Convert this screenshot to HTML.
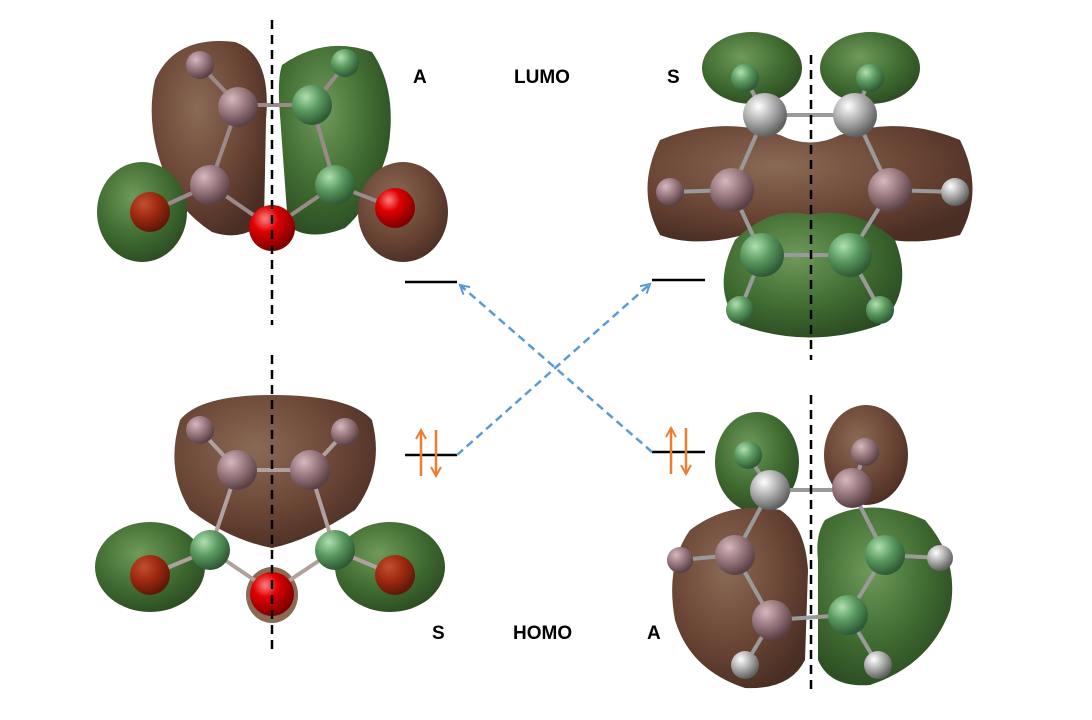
<!DOCTYPE html>
<html><head><meta charset="utf-8"><style>
html,body{margin:0;padding:0;background:#fff;}
svg{display:block;}
text{font-family:"Liberation Sans",Arial,sans-serif;font-weight:bold;font-size:19px;fill:#000;}
</style></head><body>
<svg width="1092" height="720" viewBox="0 0 1092 720" xmlns="http://www.w3.org/2000/svg">
<defs>
<radialGradient id="gr" cx="40%" cy="35%" r="70%"><stop offset="0" stop-color="#6f9a5a"/><stop offset="0.6" stop-color="#3f6a30"/><stop offset="1" stop-color="#2b4a22"/></radialGradient>
<radialGradient id="br" cx="40%" cy="35%" r="70%"><stop offset="0" stop-color="#8a6a55"/><stop offset="0.6" stop-color="#6a4535"/><stop offset="1" stop-color="#4a2e24"/></radialGradient>
<radialGradient id="red" cx="35%" cy="30%" r="70%"><stop offset="0" stop-color="#ff8080"/><stop offset="0.4" stop-color="#e00000"/><stop offset="1" stop-color="#800000"/></radialGradient>
<radialGradient id="dred" cx="35%" cy="30%" r="70%"><stop offset="0" stop-color="#c05030"/><stop offset="0.5" stop-color="#a02a10"/><stop offset="1" stop-color="#601808"/></radialGradient>
<radialGradient id="pk" cx="35%" cy="30%" r="70%"><stop offset="0" stop-color="#d8b8c0"/><stop offset="0.5" stop-color="#9a7a80"/><stop offset="1" stop-color="#5a4045"/></radialGradient>
<radialGradient id="gn" cx="35%" cy="30%" r="70%"><stop offset="0" stop-color="#b0e0b0"/><stop offset="0.5" stop-color="#5a9a60"/><stop offset="1" stop-color="#2f5a35"/></radialGradient>
<radialGradient id="gy" cx="35%" cy="30%" r="70%"><stop offset="0" stop-color="#ffffff"/><stop offset="0.5" stop-color="#b0b0b0"/><stop offset="1" stop-color="#606060"/></radialGradient>
<marker id="ah" markerWidth="12" markerHeight="12" refX="10" refY="6" orient="auto" markerUnits="userSpaceOnUse"><path d="M1,1 L10,6 L1,11" fill="none" stroke="#5b9bd5" stroke-width="2"/></marker>
<marker id="oa" markerWidth="12" markerHeight="12" refX="10" refY="6" orient="auto" markerUnits="userSpaceOnUse"><path d="M1,1 L10,6 L1,11" fill="none" stroke="#ed7d31" stroke-width="2"/></marker>
</defs>

<!-- TOP LEFT (LUMO A) -->
<path d="M155,80 Q175,35 235,42 Q272,55 266,120 L264,222 Q242,242 212,232 Q178,210 165,175 Q145,125 155,80Z" fill="url(#br)"/>
<path d="M282,65 Q325,35 372,52 Q398,90 388,150 Q372,205 345,228 Q310,242 288,226 L280,115 Q277,80 282,65Z" fill="url(#gr)"/>
<ellipse cx="142" cy="212" rx="45" ry="50" fill="url(#gr)"/>
<ellipse cx="403" cy="212" rx="45" ry="50" fill="url(#br)"/>
<g stroke="#9a8a8a" stroke-width="4">
<line x1="200" y1="65" x2="238" y2="105"/><line x1="238" y1="105" x2="312" y2="105"/><line x1="312" y1="105" x2="345" y2="65"/>
<line x1="238" y1="105" x2="210" y2="185"/><line x1="312" y1="105" x2="335" y2="185"/>
<line x1="210" y1="185" x2="150" y2="212"/><line x1="335" y1="185" x2="395" y2="208"/>
<line x1="210" y1="185" x2="272" y2="228"/><line x1="335" y1="185" x2="272" y2="228"/>
</g>
<circle cx="200" cy="65" r="14" fill="url(#pk)"/><circle cx="345" cy="63" r="14" fill="url(#gn)"/>
<circle cx="238" cy="107" r="20" fill="url(#pk)"/><circle cx="312" cy="105" r="20" fill="url(#gn)"/>
<circle cx="210" cy="185" r="20" fill="url(#pk)"/><circle cx="335" cy="185" r="20" fill="url(#gn)"/>
<circle cx="150" cy="212" r="20" fill="url(#dred)"/><circle cx="395" cy="208" r="20" fill="url(#red)"/>
<circle cx="272" cy="228" r="23" fill="url(#red)"/>
<line x1="272" y1="20" x2="272" y2="325" stroke="#000" stroke-width="2.5" stroke-dasharray="9,6"/>

<!-- TOP RIGHT (LUMO S) -->
<ellipse cx="752" cy="68" rx="50" ry="36" fill="url(#gr)"/>
<ellipse cx="870" cy="68" rx="50" ry="36" fill="url(#gr)"/>
<path d="M660,140 Q720,115 780,135 Q810,150 840,135 Q900,115 960,140 Q985,190 960,235 Q900,250 860,230 L760,230 Q700,250 660,235 Q635,190 660,140Z" fill="url(#br)"/>
<path d="M735,240 Q770,205 810,215 Q855,205 895,240 Q915,290 880,325 Q810,350 740,325 Q710,290 735,240Z" fill="url(#gr)"/>
<g stroke="#9a9a9a" stroke-width="4">
<line x1="745" y1="78" x2="765" y2="115"/><line x1="870" y1="78" x2="855" y2="115"/><line x1="765" y1="115" x2="855" y2="115"/>
<line x1="765" y1="115" x2="732" y2="190"/><line x1="855" y1="115" x2="890" y2="190"/>
<line x1="732" y1="190" x2="670" y2="192"/><line x1="890" y1="190" x2="955" y2="192"/>
<line x1="732" y1="190" x2="762" y2="255"/><line x1="890" y1="190" x2="850" y2="255"/>
<line x1="762" y1="255" x2="850" y2="255"/><line x1="762" y1="255" x2="740" y2="310"/><line x1="850" y1="255" x2="880" y2="310"/>
</g>
<circle cx="745" cy="78" r="14" fill="url(#gn)"/><circle cx="870" cy="78" r="14" fill="url(#gn)"/>
<circle cx="765" cy="115" r="22" fill="url(#gy)"/><circle cx="855" cy="115" r="22" fill="url(#gy)"/>
<circle cx="732" cy="190" r="22" fill="url(#pk)"/><circle cx="890" cy="190" r="22" fill="url(#pk)"/>
<circle cx="670" cy="192" r="14" fill="url(#pk)"/><circle cx="955" cy="192" r="14" fill="url(#gy)"/>
<circle cx="762" cy="255" r="22" fill="url(#gn)"/><circle cx="850" cy="255" r="22" fill="url(#gn)"/>
<circle cx="740" cy="310" r="14" fill="url(#gn)"/><circle cx="880" cy="310" r="14" fill="url(#gn)"/>
<line x1="811" y1="55" x2="811" y2="360" stroke="#000" stroke-width="2.5" stroke-dasharray="9,6"/>

<!-- BOTTOM LEFT (HOMO S) -->
<path d="M180,420 Q200,395 272,395 Q350,395 372,420 Q385,470 355,510 Q310,540 272,548 Q230,540 190,510 Q165,470 180,420Z" fill="url(#br)"/>
<ellipse cx="150" cy="567" rx="55" ry="45" fill="url(#gr)"/>
<ellipse cx="390" cy="567" rx="55" ry="45" fill="url(#gr)"/>
<ellipse cx="272" cy="595" rx="26" ry="28" fill="#8a6a55"/>
<g stroke="#b0a0a0" stroke-width="4">
<line x1="200" y1="430" x2="237" y2="470"/><line x1="237" y1="470" x2="310" y2="470"/><line x1="310" y1="470" x2="345" y2="432"/>
<line x1="237" y1="470" x2="210" y2="550"/><line x1="310" y1="470" x2="335" y2="550"/>
<line x1="210" y1="550" x2="150" y2="575"/><line x1="335" y1="550" x2="395" y2="575"/>
<line x1="210" y1="550" x2="272" y2="592"/><line x1="335" y1="550" x2="272" y2="592"/>
</g>
<circle cx="200" cy="430" r="14" fill="url(#pk)"/><circle cx="345" cy="432" r="14" fill="url(#pk)"/>
<circle cx="237" cy="470" r="20" fill="url(#pk)"/><circle cx="310" cy="470" r="20" fill="url(#pk)"/>
<circle cx="210" cy="550" r="20" fill="url(#gn)"/><circle cx="335" cy="550" r="20" fill="url(#gn)"/>
<circle cx="150" cy="575" r="20" fill="url(#dred)"/><circle cx="395" cy="575" r="20" fill="url(#dred)"/>
<circle cx="272" cy="594" r="22" fill="url(#red)"/>
<line x1="272" y1="355" x2="272" y2="652" stroke="#000" stroke-width="2.5" stroke-dasharray="9,6"/>

<!-- BOTTOM RIGHT (HOMO A) -->
<ellipse cx="757" cy="462" rx="42" ry="50" fill="url(#gr)"/>
<ellipse cx="866" cy="455" rx="42" ry="50" fill="url(#br)"/>
<path d="M690,530 Q730,500 780,510 Q805,525 808,570 L805,660 Q790,690 745,688 Q690,670 675,620 Q665,565 690,530Z" fill="url(#br)"/>
<path d="M825,520 Q870,495 925,520 Q960,560 950,610 Q930,665 870,685 Q830,688 818,660 L818,560 Q815,535 825,520Z" fill="url(#gr)"/>
<g stroke="#9a9a9a" stroke-width="4">
<line x1="748" y1="455" x2="770" y2="490"/><line x1="865" y1="452" x2="852" y2="490"/><line x1="770" y1="490" x2="852" y2="490"/>
<line x1="770" y1="490" x2="735" y2="555"/><line x1="852" y1="490" x2="885" y2="555"/>
<line x1="735" y1="555" x2="680" y2="560"/><line x1="885" y1="555" x2="940" y2="558"/>
<line x1="735" y1="555" x2="772" y2="620"/><line x1="885" y1="555" x2="848" y2="615"/>
<line x1="772" y1="620" x2="848" y2="615"/><line x1="772" y1="620" x2="745" y2="665"/><line x1="848" y1="615" x2="878" y2="665"/>
</g>
<circle cx="748" cy="455" r="14" fill="url(#gn)"/><circle cx="865" cy="452" r="14" fill="url(#pk)"/>
<circle cx="770" cy="490" r="20" fill="url(#gy)"/><circle cx="852" cy="488" r="20" fill="url(#pk)"/>
<circle cx="735" cy="555" r="20" fill="url(#pk)"/><circle cx="885" cy="555" r="20" fill="url(#gn)"/>
<circle cx="680" cy="560" r="13" fill="url(#pk)"/><circle cx="940" cy="558" r="13" fill="url(#gy)"/>
<circle cx="772" cy="620" r="20" fill="url(#pk)"/><circle cx="848" cy="615" r="20" fill="url(#gn)"/>
<circle cx="745" cy="665" r="14" fill="url(#gy)"/><circle cx="878" cy="665" r="14" fill="url(#gy)"/>
<line x1="811" y1="395" x2="811" y2="692" stroke="#000" stroke-width="2.5" stroke-dasharray="9,6"/>

<!-- energy levels -->
<g stroke="#000" stroke-width="2.5">
<line x1="405" y1="282" x2="457" y2="282"/><line x1="652" y1="280" x2="705" y2="280"/>
<line x1="405" y1="455" x2="457" y2="455"/><line x1="652" y1="452" x2="705" y2="452"/>
</g>
<g stroke="#5b9bd5" stroke-width="2.5" stroke-dasharray="8,5" fill="none">
<line x1="457" y1="455" x2="650" y2="284" marker-end="url(#ah)"/>
<line x1="652" y1="452" x2="460" y2="285" marker-end="url(#ah)"/>
</g>
<g stroke="#ed7d31" stroke-width="2.5" fill="none">
<line x1="421" y1="476" x2="421" y2="430" marker-end="url(#oa)"/>
<line x1="436" y1="430" x2="436" y2="476" marker-end="url(#oa)"/>
<line x1="671" y1="474" x2="671" y2="428" marker-end="url(#oa)"/>
<line x1="686" y1="428" x2="686" y2="474" marker-end="url(#oa)"/>
</g>

<text x="413" y="83">A</text>
<text x="514" y="83">LUMO</text>
<text x="667" y="83">S</text>
<text x="432" y="639">S</text>
<text x="513" y="639">HOMO</text>
<text x="647" y="639">A</text>
</svg>
</body></html>
